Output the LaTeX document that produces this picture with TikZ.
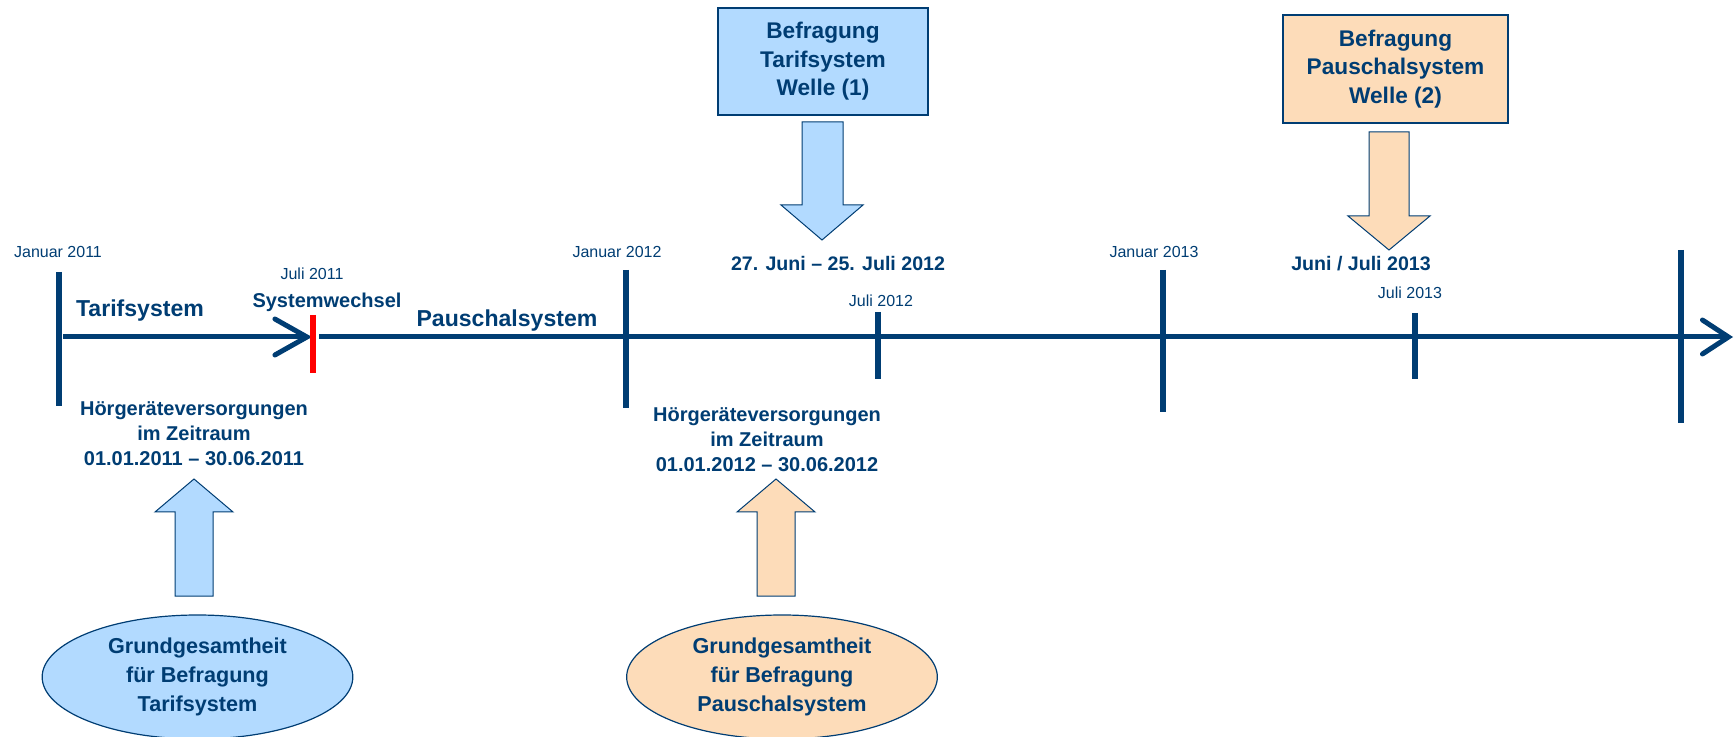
\documentclass[tikz,border=0pt]{standalone}
\usepackage{fontspec}
\setmainfont{Liberation Sans}
\usetikzlibrary{arrows.meta,shapes.geometric}
\definecolor{dunkelblau}{RGB}{0,61,115}
\definecolor{hellblau}{RGB}{178,218,255}
\definecolor{pfirsich}{RGB}{253,220,185}
\definecolor{wechselrot}{RGB}{255,0,0}
\tikzset{
  monat/.style={text=dunkelblau,inner sep=0.75pt,font=\fontsize{12}{14}\selectfont},
  system/.style={text=dunkelblau,inner sep=0.75pt,font=\fontsize{17.3}{20}\bfseries\selectfont},
  termin/.style={text=dunkelblau,inner sep=0.75pt,font=\fontsize{14.7}{17}\bfseries\selectfont},
  zeitraum/.style={text=dunkelblau,inner sep=0.75pt,align=center,font=\fontsize{15}{18.75}\bfseries\selectfont},
  welle/.style={draw=dunkelblau,line width=0.9pt,text=dunkelblau,align=center,inner sep=0pt,
    font=\fontsize{17}{21.4}\bfseries\selectfont},
  grundges/.style={ellipse,draw=dunkelblau,line width=0.9pt,text=dunkelblau,align=center,inner sep=0pt,
    minimum width=233pt,minimum height=93pt,font=\fontsize{16.2}{21.75}\bfseries\selectfont},
  blockpfeil/.style={draw=dunkelblau,line width=0.75pt,line join=miter},
  achse/.style={draw=dunkelblau,line width=3.75pt},
  strich/.style={draw=dunkelblau,line width=4.2pt}
}

\begin{document}
\begin{tikzpicture}[x=0.75pt,y=0.75pt,yscale=-1,xscale=1]
\useasboundingbox (0,0) rectangle (1735,737);

% Zeitachse
\coordinate (start) at (63,337);
\coordinate (wechsel) at (312,337);
\coordinate (weiter) at (319,337);
\coordinate (ende) at (1733,337);
\draw [achse,-{Straight Barb[length=24pt,width=27pt,line cap=round]}] (start) -- (wechsel);
\draw [achse,-{Straight Barb[length=19.5pt,width=25.5pt,line cap=round]}] (weiter) -- (ende);

\draw [strich] (59,272) -- (59,406);
\draw [draw=wechselrot,line width=4.5pt] (313,315) -- (313,373);
\draw [strich] (626,270) -- (626,408);
\draw [strich] (878,312) -- (878,379);
\draw [strich] (1163,270) -- (1163,412);
\draw [strich] (1415,313) -- (1415,379);
\draw [strich] (1681,250) -- (1681,423);

% Monate
\draw (58,252) node (jan11) [monat] {Januar 2011};
\draw (312,274) node (jul11) [monat] {Juli 2011};
\draw (617,252) node (jan12) [monat] {Januar 2012};
\draw (881,301) node (jul12) [monat] {Juli 2012};
\draw (1154,252) node (jan13) [monat] {Januar 2013};
\draw (1410,293) node (jul13) [monat] {Juli 2013};

\draw (327,302) node (syswechsel) [termin,font=\fontsize{15}{17}\bfseries\selectfont] {Systemwechsel};
\draw (140,311) node (tarif) [system] {Tarifsystem};
\draw (507,321) node (pauschal) [system] {Pauschalsystem};

% Befragungen
\draw (823,61.5) node (welle1) [welle,fill=hellblau,minimum width=157.5pt,minimum height=80.25pt] {Befragung\\Tarifsystem\\Welle (1)};
\draw (1395.5,69) node (welle2) [welle,fill=pfirsich,minimum width=168.75pt,minimum height=81pt] {Befragung\\Pauschalsystem\\Welle (2)};
\draw [blockpfeil,fill=hellblau] (802,122) -- (843,122) -- (843,205) -- (863,205) -- (822,240) -- (781,205) -- (802,205) -- cycle;
\draw [blockpfeil,fill=pfirsich] (1369,132) -- (1409,132) -- (1409,216) -- (1430,216) -- (1389,250) -- (1348,216) -- (1369,216) -- cycle;
\draw (838,263) node (termin1) [termin] {27. Juni – 25. Juli 2012};
\draw (1361,264) node (termin2) [termin] {Juni / Juli 2013};

% Zeitraeume und Grundgesamtheiten
\draw (194,434) node (zeit1) [zeitraum] {Hörgeräteversorgungen\\im Zeitraum\\01.01.2011 – 30.06.2011};
\draw (767,440) node (zeit2) [zeitraum] {Hörgeräteversorgungen\\im Zeitraum\\01.01.2012 – 30.06.2012};
\draw [blockpfeil,fill=hellblau] (175,596) -- (213,596) -- (213,512) -- (233,512) -- (194,479) -- (155,512) -- (175,512) -- cycle;
\draw [blockpfeil,fill=pfirsich] (757,596) -- (795,596) -- (795,512) -- (815,512) -- (776,479) -- (737,512) -- (757,512) -- cycle;
\draw (197.5,677) node (grund1) [grundges,fill=hellblau] {Grundgesamtheit\\für Befragung\\Tarifsystem};
\draw (782,677) node (grund2) [grundges,fill=pfirsich] {Grundgesamtheit\\für Befragung\\Pauschalsystem};
\end{tikzpicture}
\end{document}
